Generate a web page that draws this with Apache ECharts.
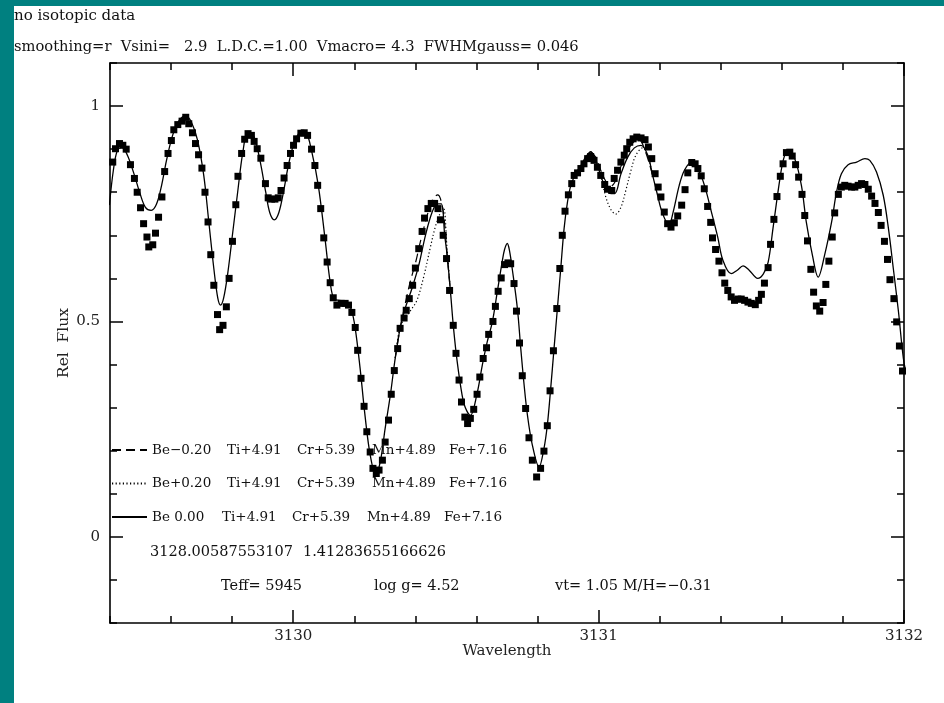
<!DOCTYPE html>
<html>
<head>
<meta charset="utf-8">
<script src="https://cdn.jsdelivr.net/npm/echarts@6/dist/echarts.min.js"></script>
<style>
  html, body { margin: 0; padding: 0; background: #ffffff; }
  #chart { width: 944px; height: 703px; }
</style>
</head>
<body>
<div id="chart"></div>
<script>
// Observed spectrum (wavelength in Angstrom, relative flux)
const obsWave = [
  3129.397, 3129.409, 3129.418, 3129.431, 3129.442, 3129.453, 3129.467, 3129.480, 3129.489, 3129.500,
  3129.510, 3129.521, 3129.527, 3129.540, 3129.549, 3129.559, 3129.570, 3129.579, 3129.590, 3129.601,
  3129.609, 3129.622, 3129.636, 3129.648, 3129.658, 3129.670, 3129.680, 3129.690, 3129.701, 3129.711,
  3129.721, 3129.730, 3129.740, 3129.752, 3129.759, 3129.770, 3129.781, 3129.790, 3129.801, 3129.812,
  3129.819, 3129.831, 3129.841, 3129.852, 3129.863, 3129.872, 3129.882, 3129.894, 3129.909, 3129.918,
  3129.929, 3129.940, 3129.951, 3129.960, 3129.970, 3129.980, 3129.991, 3130.001, 3130.011, 3130.025,
  3130.036, 3130.047, 3130.060, 3130.071, 3130.080, 3130.090, 3130.100, 3130.111, 3130.121, 3130.131,
  3130.143, 3130.157, 3130.170, 3130.181, 3130.192, 3130.203, 3130.211, 3130.222, 3130.232, 3130.241,
  3130.252, 3130.261, 3130.272, 3130.281, 3130.292, 3130.301, 3130.312, 3130.321, 3130.331, 3130.342,
  3130.350, 3130.363, 3130.370, 3130.380, 3130.391, 3130.400, 3130.411, 3130.422, 3130.430, 3130.441,
  3130.452, 3130.463, 3130.474, 3130.482, 3130.491, 3130.502, 3130.512, 3130.524, 3130.533, 3130.543,
  3130.551, 3130.562, 3130.571, 3130.580, 3130.591, 3130.602, 3130.611, 3130.622, 3130.633, 3130.640,
  3130.654, 3130.662, 3130.671, 3130.681, 3130.692, 3130.703, 3130.712, 3130.723, 3130.731, 3130.741,
  3130.750, 3130.761, 3130.772, 3130.783, 3130.797, 3130.810, 3130.821, 3130.832, 3130.841, 3130.852,
  3130.863, 3130.873, 3130.881, 3130.890, 3130.901, 3130.912, 3130.920, 3130.931, 3130.942, 3130.952,
  3130.964, 3130.974, 3130.985, 3130.996, 3131.007, 3131.020, 3131.029, 3131.043, 3131.051, 3131.062,
  3131.073, 3131.084, 3131.092, 3131.102, 3131.113, 3131.125, 3131.139, 3131.152, 3131.163, 3131.174,
  3131.185, 3131.195, 3131.204, 3131.215, 3131.226, 3131.237, 3131.248, 3131.259, 3131.272, 3131.283,
  3131.292, 3131.305, 3131.316, 3131.325, 3131.336, 3131.346, 3131.357, 3131.367, 3131.373, 3131.383,
  3131.394, 3131.404, 3131.413, 3131.423, 3131.434, 3131.445, 3131.456, 3131.467, 3131.478, 3131.489,
  3131.500, 3131.513, 3131.524, 3131.533, 3131.543, 3131.555, 3131.563, 3131.574, 3131.584, 3131.595,
  3131.604, 3131.615, 3131.626, 3131.634, 3131.645, 3131.655, 3131.666, 3131.675, 3131.684, 3131.695,
  3131.704, 3131.713, 3131.724, 3131.735, 3131.744, 3131.754, 3131.765, 3131.773, 3131.785, 3131.795,
  3131.806, 3131.817, 3131.828, 3131.839, 3131.850, 3131.861, 3131.872, 3131.883, 3131.894, 3131.905,
  3131.916, 3131.925, 3131.936, 3131.946, 3131.954, 3131.967, 3131.976, 3131.985, 3131.995
];
const obsFlux = [
  0.814, 0.870, 0.901, 0.913, 0.909, 0.900, 0.864, 0.832, 0.800, 0.764,
  0.727, 0.696, 0.673, 0.678, 0.705, 0.742, 0.789, 0.848, 0.890, 0.920,
  0.945, 0.957, 0.965, 0.974, 0.959, 0.938, 0.913, 0.887, 0.856, 0.800,
  0.731, 0.655, 0.584, 0.516, 0.481, 0.491, 0.534, 0.600, 0.686, 0.771,
  0.837, 0.890, 0.923, 0.936, 0.932, 0.918, 0.901, 0.879, 0.820, 0.787,
  0.784, 0.784, 0.787, 0.804, 0.833, 0.862, 0.890, 0.909, 0.924, 0.937,
  0.938, 0.932, 0.900, 0.862, 0.816, 0.762, 0.694, 0.638, 0.590, 0.555,
  0.538, 0.542, 0.542, 0.538, 0.521, 0.486, 0.433, 0.368, 0.303, 0.244,
  0.197, 0.159, 0.147, 0.155, 0.178, 0.220, 0.271, 0.331, 0.386, 0.437,
  0.484, 0.508, 0.526, 0.553, 0.584, 0.624, 0.669, 0.709, 0.740, 0.762,
  0.774, 0.774, 0.762, 0.736, 0.700, 0.646, 0.572, 0.491, 0.426, 0.364,
  0.313, 0.278, 0.263, 0.275, 0.296, 0.331, 0.371, 0.414, 0.439, 0.470,
  0.500, 0.535, 0.570, 0.601, 0.632, 0.636, 0.634, 0.588, 0.524, 0.450,
  0.374, 0.298, 0.230, 0.178, 0.139, 0.159, 0.199, 0.258, 0.339, 0.432,
  0.530, 0.623, 0.700, 0.756, 0.794, 0.820, 0.839, 0.845, 0.855, 0.866,
  0.878, 0.883, 0.874, 0.858, 0.839, 0.818, 0.807, 0.804, 0.832, 0.851,
  0.870, 0.886, 0.901, 0.916, 0.924, 0.928, 0.926, 0.922, 0.905, 0.878,
  0.843, 0.812, 0.789, 0.754, 0.727, 0.719, 0.729, 0.745, 0.770, 0.806,
  0.845, 0.869, 0.866, 0.855, 0.838, 0.808, 0.767, 0.730, 0.694, 0.667,
  0.640, 0.613, 0.589, 0.572, 0.557, 0.549, 0.552, 0.552, 0.549, 0.545,
  0.542, 0.539, 0.549, 0.563, 0.589, 0.625, 0.679, 0.737, 0.790, 0.837,
  0.866, 0.892, 0.893, 0.884, 0.864, 0.835, 0.795, 0.746, 0.687, 0.621,
  0.568, 0.536, 0.524, 0.544, 0.586, 0.640, 0.696, 0.752, 0.795, 0.812,
  0.816, 0.814, 0.812, 0.812, 0.816, 0.820, 0.818, 0.807, 0.791, 0.774,
  0.753, 0.723, 0.686, 0.644, 0.597, 0.553, 0.499, 0.443, 0.385
];

// Synthetic spectrum, Be 0.00
const synWave = [
  3129.398, 3129.411, 3129.424, 3129.439, 3129.457, 3129.477, 3129.497, 3129.516, 3129.535, 3129.552,
  3129.569, 3129.585, 3129.605, 3129.625, 3129.648, 3129.667, 3129.687, 3129.707, 3129.723, 3129.740,
  3129.753, 3129.762, 3129.772, 3129.786, 3129.802, 3129.818, 3129.835, 3129.852, 3129.871, 3129.891,
  3129.910, 3129.923, 3129.938, 3129.953, 3129.969, 3129.986, 3130.006, 3130.028, 3130.042, 3130.061,
  3130.082, 3130.104, 3130.121, 3130.134, 3130.153, 3130.173, 3130.190, 3130.203, 3130.219, 3130.235,
  3130.252, 3130.270, 3130.285, 3130.301, 3130.318, 3130.334, 3130.350, 3130.367, 3130.389, 3130.411,
  3130.433, 3130.455, 3130.472, 3130.485, 3130.496, 3130.504, 3130.515, 3130.525, 3130.537, 3130.553,
  3130.564, 3130.580, 3130.602, 3130.619, 3130.635, 3130.652, 3130.668, 3130.684, 3130.692, 3130.701,
  3130.708, 3130.717, 3130.734, 3130.745, 3130.755, 3130.767, 3130.783, 3130.805, 3130.821, 3130.832,
  3130.843, 3130.854, 3130.865, 3130.876, 3130.887, 3130.898, 3130.909, 3130.925, 3130.942, 3130.958,
  3130.974, 3130.991, 3131.007, 3131.024, 3131.040, 3131.053, 3131.073, 3131.095, 3131.117, 3131.139,
  3131.161, 3131.177, 3131.193, 3131.204, 3131.221, 3131.231, 3131.244, 3131.264, 3131.281, 3131.304,
  3131.330, 3131.349, 3131.368, 3131.390, 3131.407, 3131.434, 3131.454, 3131.473, 3131.493, 3131.521,
  3131.539, 3131.555, 3131.571, 3131.593, 3131.606, 3131.620, 3131.642, 3131.664, 3131.680, 3131.700,
  3131.719, 3131.740, 3131.763, 3131.779, 3131.795, 3131.817, 3131.845, 3131.872, 3131.888, 3131.910,
  3131.932, 3131.949, 3131.965, 3131.982, 3131.998, 3132.010
];
const synFlux = [
  0.770, 0.851, 0.897, 0.904, 0.886, 0.846, 0.800, 0.765, 0.758, 0.772,
  0.816, 0.874, 0.932, 0.965, 0.977, 0.962, 0.920, 0.839, 0.735, 0.623,
  0.554, 0.538, 0.554, 0.614, 0.707, 0.800, 0.893, 0.941, 0.930, 0.874,
  0.800, 0.753, 0.736, 0.753, 0.804, 0.869, 0.920, 0.941, 0.939, 0.893,
  0.816, 0.693, 0.591, 0.552, 0.549, 0.547, 0.528, 0.484, 0.391, 0.282,
  0.190, 0.145, 0.174, 0.252, 0.329, 0.415, 0.484, 0.531, 0.577, 0.630,
  0.700, 0.754, 0.773, 0.773, 0.700, 0.654, 0.568, 0.484, 0.406, 0.329,
  0.299, 0.282, 0.333, 0.398, 0.452, 0.499, 0.568, 0.638, 0.667, 0.681,
  0.665, 0.623, 0.530, 0.438, 0.360, 0.282, 0.213, 0.162, 0.205, 0.259,
  0.344, 0.437, 0.530, 0.623, 0.716, 0.777, 0.816, 0.843, 0.862, 0.882,
  0.894, 0.874, 0.839, 0.808, 0.797, 0.797, 0.842, 0.881, 0.903, 0.909,
  0.886, 0.839, 0.793, 0.762, 0.732, 0.727, 0.754, 0.816, 0.851, 0.870,
  0.847, 0.810, 0.758, 0.696, 0.642, 0.611, 0.619, 0.629, 0.619, 0.600,
  0.610, 0.637, 0.716, 0.828, 0.878, 0.896, 0.878, 0.816, 0.731, 0.654,
  0.603, 0.654, 0.731, 0.800, 0.843, 0.864, 0.870, 0.878, 0.874, 0.847,
  0.793, 0.716, 0.623, 0.522, 0.414, 0.370
];

// Be -0.20: stretches where it departs from Be 0.00
const beLowWaveA = [3130.334, 3130.350, 3130.367, 3130.383, 3130.400, 3130.416, 3130.433, 3130.449, 3130.463, 3130.473, 3130.482, 3130.493, 3130.504, 3130.515];
const beLowFluxA = [0.415, 0.484, 0.542, 0.592, 0.635, 0.684, 0.731, 0.770, 0.789, 0.794, 0.785, 0.746, 0.654, 0.568];
const beLowWaveB = [3130.974, 3130.991, 3131.007, 3131.024, 3131.040, 3131.053, 3131.073, 3131.095, 3131.117, 3131.132, 3131.152, 3131.177];
const beLowFluxB = [0.894, 0.881, 0.851, 0.825, 0.814, 0.823, 0.860, 0.897, 0.918, 0.922, 0.897, 0.839];

// Be +0.20: stretches where it departs from Be 0.00
const beHighWaveA = [3130.334, 3130.350, 3130.367, 3130.383, 3130.405, 3130.427, 3130.449, 3130.465, 3130.482, 3130.492, 3130.504, 3130.515];
const beHighFluxA = [0.415, 0.489, 0.507, 0.524, 0.549, 0.603, 0.672, 0.719, 0.753, 0.765, 0.665, 0.568];
const beHighWaveB = [3130.974, 3130.991, 3131.007, 3131.024, 3131.040, 3131.056, 3131.073, 3131.089, 3131.106, 3131.122, 3131.144, 3131.161, 3131.177];
const beHighFluxB = [0.894, 0.872, 0.837, 0.788, 0.760, 0.749, 0.765, 0.804, 0.851, 0.886, 0.903, 0.883, 0.839];

// Axis tick labels
const xTickLabels = [3130, 3131, 3132];
const yTickLabels = [0, 0.5, 1];

// Abundance key rows (dashed, dotted, solid)
const keyRows = [
  ['Be\u22120.20', 'Ti+4.91', 'Cr+5.39', 'Mn+4.89', 'Fe+7.16'],
  ['Be+0.20', 'Ti+4.91', 'Cr+5.39', 'Mn+4.89', 'Fe+7.16'],
  ['Be 0.00', 'Ti+4.91', 'Cr+5.39', 'Mn+4.89', 'Fe+7.16']
];
const headerLines = ['no isotopic data',
  'smoothing=r  Vsini=   2.9  L.D.C.=1.00  Vmacro= 4.3  FWHMgauss= 0.046'];
const wavelengthInfo = ['3128.00587553107', '1.41283655166626'];
const atmosphereInfo = ['Teff= 5945', 'log g= 4.52', 'vt= 1.05 M/H=\u22120.31'];

const FONT = '"DejaVu Serif", "Liberation Serif", serif';
const pairs = (xs, ys) => xs.map((x, i) => [x, ys[i]]);
const joinSegments = (a, b) => a.concat([[null, null]], b);
const keyNames = keyRows.map(r => r.join('  '));

const chart = echarts.init(document.getElementById('chart'), null, { renderer: 'canvas' });

const X_MIN = 3129.4, X_MAX = 3132, Y_MIN = -0.2, Y_MAX = 1.1;
const tickStyle = { color: '#000', width: 1.5 };
const labelStyle = { color: '#222', fontFamily: FONT, fontSize: 15 };

function xAxisDef(position, major) {
  return {
    type: 'value', position, min: X_MIN, max: X_MAX, interval: 0.2,
    axisLine: { show: !major, onZero: false, lineStyle: { color: '#000', width: 1.6 } },
    axisTick: major
      ? { show: true, inside: true, length: 13, customValues: xTickLabels, lineStyle: tickStyle }
      : { show: true, inside: true, length: 7, lineStyle: tickStyle },
    axisLabel: (position === 'bottom' && !major)
      ? Object.assign({ show: true, customValues: xTickLabels, margin: 6, formatter: v => String(Math.round(v)) }, labelStyle)
      : { show: false },
    splitLine: { show: false }
  };
}
function yAxisDef(position, major) {
  return {
    type: 'value', position, min: Y_MIN, max: Y_MAX, interval: 0.1,
    axisLine: { show: !major, onZero: false, lineStyle: { color: '#000', width: 1.6 } },
    axisTick: major
      ? { show: true, inside: true, length: 13, customValues: yTickLabels, lineStyle: tickStyle }
      : { show: true, inside: true, length: 7, lineStyle: tickStyle },
    axisLabel: (position === 'left' && !major)
      ? Object.assign({ show: true, customValues: yTickLabels, margin: 10, formatter: v => String(v) }, labelStyle)
      : { show: false },
    splitLine: { show: false }
  };
}

const xAxes = [xAxisDef('bottom', false), xAxisDef('bottom', true), xAxisDef('top', false), xAxisDef('top', true)];
Object.assign(xAxes[0], {
  name: 'Wavelength', nameLocation: 'middle', nameGap: 21, nameMoveOverlap: false, nameTextStyle: labelStyle
});
const yAxes = [yAxisDef('left', false), yAxisDef('left', true), yAxisDef('right', false), yAxisDef('right', true)];
Object.assign(yAxes[0], {
  name: 'Rel  Flux', nameLocation: 'middle', nameGap: 38, nameRotate: 90, nameMoveOverlap: false,
  nameTextStyle: Object.assign({}, labelStyle, { fontSize: 15.5 })
});

const KEY_SIZE = 13.5;
const keyFrag = w => Object.assign(w ? { width: w } : {}, { fontFamily: FONT, fontSize: KEY_SIZE, color: '#111' });
const keyRich = { a: keyFrag(75), a3: keyFrag(70), b: keyFrag(70), c: keyFrag(75), d: keyFrag(77), e: keyFrag(0) };

const textEl = (text, x, y, size) => ({
  type: 'text', left: x, top: y,
  style: { text, fill: '#111', font: `${size}px ${FONT}` }
});

const lineSeries = (name, data, type, width) => ({
  name, type: 'line', data, xAxisIndex: 0, yAxisIndex: 0,
  showSymbol: false, symbol: 'none', smooth: 0.35, connectNulls: false,
  lineStyle: { color: '#000', width, type }, itemStyle: { color: '#000' },
  emphasis: { disabled: true }, z: 3
});

chart.setOption({
  animation: false,
  backgroundColor: '#008080',
  textStyle: { fontFamily: FONT },
  grid: { left: 110, top: 63, width: 794, height: 560, containLabel: false },
  xAxis: xAxes,
  yAxis: yAxes,
  legend: {
    data: keyNames.map(n => ({ name: n, itemStyle: { opacity: 0 } })),
    orient: 'vertical',
    left: 111, top: 443,
    itemWidth: 35, itemHeight: 14, itemGap: 19.5,
    padding: 0,
    selectedMode: false,
    itemStyle: { opacity: 0 },
    formatter: name => {
      const idx = keyNames.indexOf(name);
      const keys = [idx === 2 ? 'a3' : 'a', 'b', 'c', 'd', 'e'];
      return keyRows[idx].map((p, i) => `{${keys[i]}|${p}}`).join('');
    },
    textStyle: { fontFamily: FONT, fontSize: KEY_SIZE, color: '#111', rich: keyRich }
  },
  graphic: [
    { type: 'rect', left: 14, top: 6, shape: { width: 930, height: 697 }, style: { fill: '#ffffff' }, z: -100, silent: true },
    textEl(headerLines[0], 14, 9, 15),
    textEl(headerLines[1], 14, 40, 14.7),
    textEl(wavelengthInfo[0], 150, 545, 14.5),
    textEl(wavelengthInfo[1], 303, 545, 14.5),
    textEl(atmosphereInfo[0], 221, 579, 14.5),
    textEl(atmosphereInfo[1], 374, 579, 14.5),
    textEl(atmosphereInfo[2], 555, 579, 14.5)
  ],
  series: [
    lineSeries(keyNames[0], joinSegments(pairs(beLowWaveA, beLowFluxA), pairs(beLowWaveB, beLowFluxB)), [9, 5], 1.2),
    lineSeries(keyNames[1], joinSegments(pairs(beHighWaveA, beHighFluxA), pairs(beHighWaveB, beHighFluxB)), [1.2, 2.4], 1.2),
    lineSeries(keyNames[2], pairs(synWave, synFlux), 'solid', 1.3),
    {
      name: 'observed', type: 'scatter', data: pairs(obsWave, obsFlux),
      xAxisIndex: 0, yAxisIndex: 0,
      symbol: 'rect', symbolSize: 7, itemStyle: { color: '#000', opacity: 1 },
      emphasis: { disabled: true }, z: 2
    }
  ]
});
</script>
</body>
</html>
